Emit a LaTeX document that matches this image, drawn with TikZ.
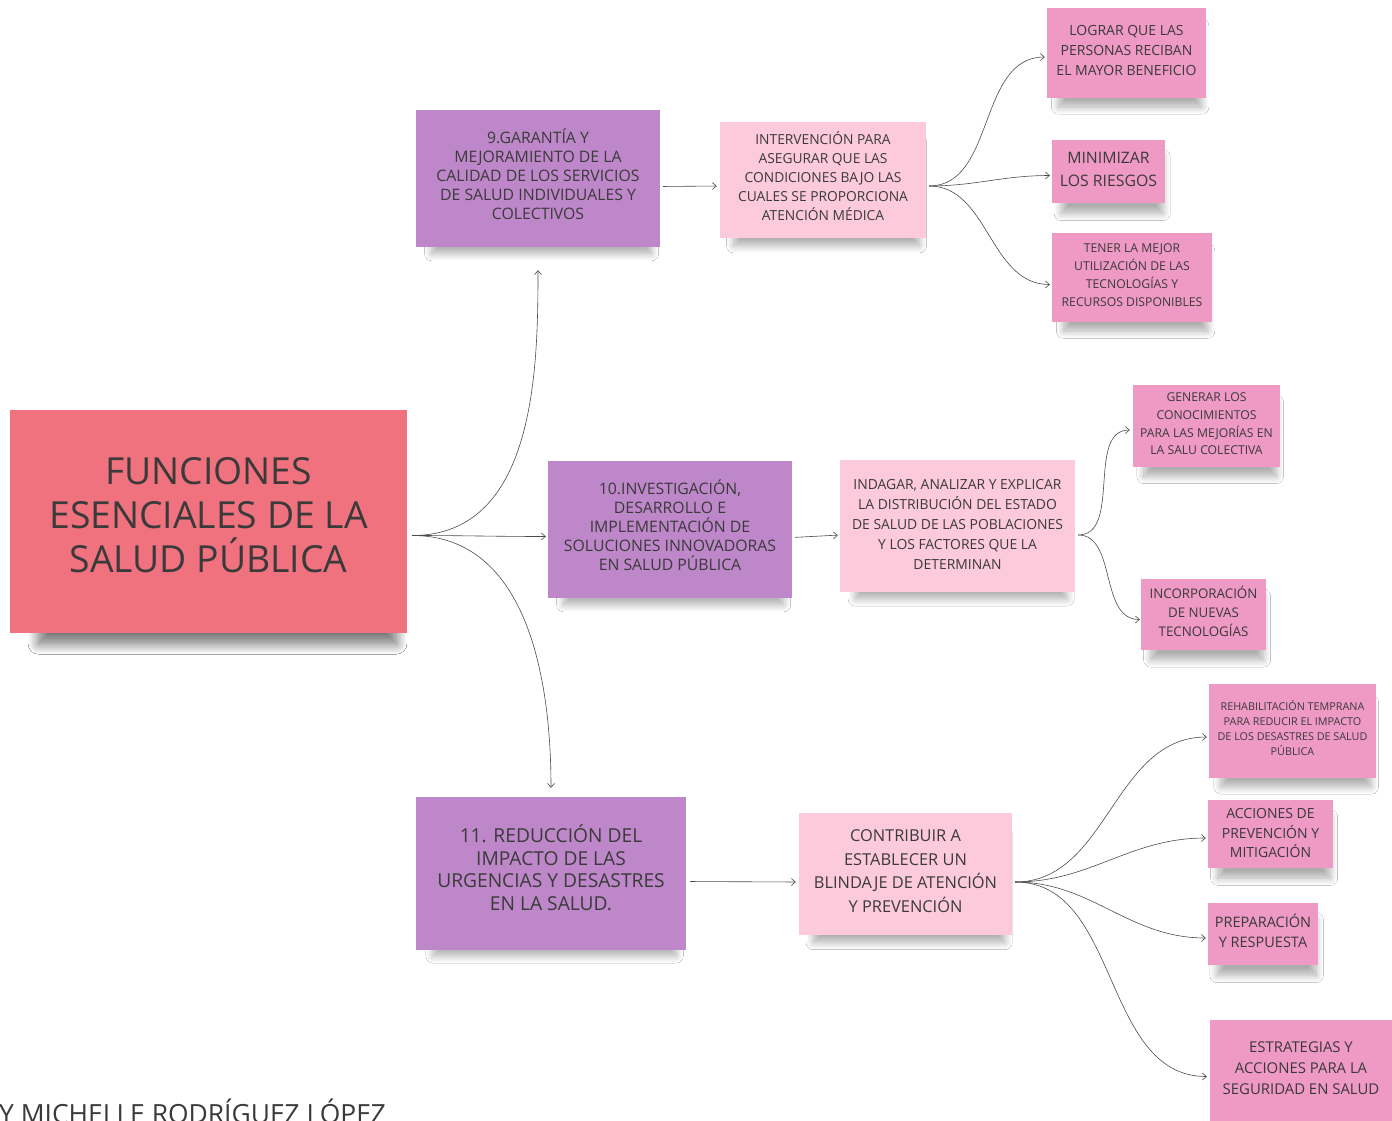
\documentclass[tikz,border=0pt]{standalone}
\usepackage{fontspec}
\setmainfont{Open Sans}
\usetikzlibrary{arrows.meta,shadows.blur,calc}
\definecolor{mainred}{HTML}{F0727F}
\definecolor{purp}{HTML}{BE87C9}
\definecolor{lpink}{HTML}{FDCADB}
\definecolor{mpink}{HTML}{EF99C5}
\definecolor{txt}{HTML}{3A3A3A}
\tikzset{
  card/.style={rectangle, inner sep=2pt, align=center, text=txt,
    blur shadow={shadow xshift=4pt, shadow yshift=-15pt, shadow opacity=32, shadow blur steps=12,
      shadow blur radius=8pt, shadow scale=0.9}},
  mainbox/.style={card, fill=mainred, minimum width=397pt, minimum height=223pt,
    blur shadow={shadow xshift=10pt, shadow yshift=-24pt, shadow opacity=32, shadow blur steps=14,
      shadow blur radius=12pt, shadow scale=0.9}},
  purpbox/.style={card, fill=purp},
  lightbox/.style={card, fill=lpink},
  leafbox/.style={card, fill=mpink},
  conn/.style={draw=black!70, line width=0.6pt, -{Straight Barb[length=4pt,width=7pt]}},
  fs/.style 2 args={font=\fontsize{#1}{#2}\selectfont},
}
\begin{document}
\begin{tikzpicture}[x=1pt,y=-1pt]
\useasboundingbox (0,0) rectangle (1392,1121);
\fill[white] (0,0) rectangle (1392,1121);

\node[mainbox, fs={37.3}{44}, text depth=14pt] (main) at (208.5,521.5) {FUNCIONES\\ESENCIALES DE LA\\SALUD PÚBLICA};

\node[purpbox, minimum width=244pt, minimum height=137pt, fs={15.8}{19}, text depth=8pt] (b9) at (538,178.5)
  {9.GARANTÍA Y\\MEJORAMIENTO DE LA\\CALIDAD DE LOS SERVICIOS\\DE SALUD INDIVIDUALES Y\\COLECTIVOS};
\node[lightbox, minimum width=206pt, minimum height=116pt, fs={13.8}{19}, text depth=8pt] (int) at (823,180)
  {INTERVENCIÓN PARA\\ASEGURAR QUE LAS\\CONDICIONES BAJO LAS\\CUALES SE PROPORCIONA\\ATENCIÓN MÉDICA};
\node[leafbox, minimum width=159pt, minimum height=90pt, fs={14}{20}, text depth=6pt] (log) at (1126.5,53)
  {LOGRAR QUE LAS\\PERSONAS RECIBAN\\EL MAYOR BENEFICIO};
\node[leafbox, minimum width=113pt, minimum height=63pt, fs={15.8}{23}, text depth=4pt] (min) at (1108.5,171.5)
  {MINIMIZAR\\LOS RIESGOS};
\node[leafbox, minimum width=160pt, minimum height=89pt, fs={12.2}{18}, text depth=4pt] (ten) at (1132,277.5)
  {TENER LA MEJOR\\UTILIZACIÓN DE LAS\\TECNOLOGÍAS Y\\RECURSOS DISPONIBLES};

\node[purpbox, minimum width=244pt, minimum height=137pt, fs={15.8}{19}, text depth=8pt] (b10) at (670,529.5)
  {10.INVESTIGACIÓN,\\DESARROLLO E\\IMPLEMENTACIÓN DE\\SOLUCIONES INNOVADORAS\\EN SALUD PÚBLICA};
\node[lightbox, minimum width=235pt, minimum height=132pt, fs={13.9}{20}, text depth=4pt] (ind) at (957.5,526)
  {INDAGAR, ANALIZAR Y EXPLICAR\\LA DISTRIBUCIÓN DEL ESTADO\\DE SALUD DE LAS POBLACIONES\\Y LOS FACTORES QUE LA\\DETERMINAN};
\node[leafbox, minimum width=147pt, minimum height=82pt, fs={12.2}{17.7}, text depth=4pt] (gen) at (1206.5,426)
  {GENERAR LOS\\CONOCIMIENTOS\\PARA LAS MEJORÍAS EN\\LA SALU COLECTIVA};
\node[leafbox, minimum width=125pt, minimum height=71pt, fs={13.3}{19}, text depth=6pt] (inc) at (1203.5,614.5)
  {INCORPORACIÓN\\DE NUEVAS\\TECNOLOGÍAS};

\node[purpbox, minimum width=270pt, minimum height=153pt, fs={19.2}{22.7}, text depth=12pt] (b11) at (551,873.5)
  {11. REDUCCIÓN DEL\\IMPACTO DE LAS\\URGENCIAS Y DESASTRES\\EN LA SALUD.};
\node[lightbox, minimum width=213pt, minimum height=122pt, fs={16.4}{23.7}, text depth=6pt] (con) at (905.5,874)
  {CONTRIBUIR A\\ESTABLECER UN\\BLINDAJE DE ATENCIÓN\\Y PREVENCIÓN};
\node[leafbox, minimum width=167pt, minimum height=94pt, fs={10.8}{15}, text depth=6pt] (reh) at (1292.5,731)
  {REHABILITACIÓN TEMPRANA\\PARA REDUCIR EL IMPACTO\\DE LOS DESASTRES DE SALUD\\PÚBLICA};
\node[leafbox, minimum width=125pt, minimum height=68pt, fs={14}{19.5}, text depth=2pt] (acc) at (1270.5,834)
  {ACCIONES DE\\PREVENCIÓN Y\\MITIGACIÓN};
\node[leafbox, minimum width=110pt, minimum height=62pt, fs={14.5}{20}, text depth=6pt] (pre) at (1263,934)
  {PREPARACIÓN\\Y RESPUESTA};
\node[leafbox, minimum width=182pt, minimum height=101pt, fs={14.9}{21}, text depth=4pt] (est) at (1301,1070.5)
  {ESTRATEGIAS Y\\ACCIONES PARA LA\\SEGURIDAD EN SALUD};

\node[anchor=base west, inner sep=0pt, text=txt, fs={26.4}{30}] (author) at (-1,1123)
  {Y MICHELLE RODRÍGUEZ LÓPEZ};

% connectors
\draw[conn, shorten >=23pt] ([shift={(5,14)}]main.east) to[out=0,in=-90] (b9.south);
\draw[conn, shorten >=2pt] ([shift={(5,14)}]main.east) to[out=0,in=180] ([yshift=-7]b10.west);
\draw[conn, shorten >=9pt] ([shift={(5,14)}]main.east) to[out=0,in=90] (b11.north);

\draw[conn, shorten <=3pt, shorten >=3pt] ([yshift=-8]b9.east) -- ([yshift=-6]int.west);
\draw[conn, shorten <=3pt, shorten >=2pt] ([yshift=-6]int.east) to[out=0,in=180] ([yshift=-4]log.west);
\draw[conn, shorten <=3pt, shorten >=2pt] ([yshift=-6]int.east) to[out=0,in=180] ([yshift=-4]min.west);
\draw[conn, shorten <=3pt, shorten >=2pt] ([yshift=-6]int.east) to[out=0,in=180] ([yshift=-7]ten.west);

\draw[conn, shorten <=3pt, shorten >=2pt] ([yshift=-8]b10.east) -- ([yshift=-9]ind.west);
\draw[conn, shorten <=3pt, shorten >=3pt] ([yshift=-9]ind.east) to[out=0,in=180] ([yshift=-4]gen.west);
\draw[conn, shorten <=3pt, shorten >=1pt] ([yshift=-9]ind.east) to[out=0,in=180] ([yshift=-5]inc.west);

\draw[conn, shorten <=4pt, shorten >=3pt] ([yshift=-8]b11.east) -- ([yshift=-8]con.west);
\draw[conn, shorten <=3pt, shorten >=2pt] ([yshift=-8]con.east) to[out=0,in=180] ([yshift=-6]reh.west);
\draw[conn, shorten <=3pt, shorten >=2pt] ([yshift=-8]con.east) to[out=0,in=180] ([yshift=-4]acc.west);
\draw[conn, shorten <=3pt, shorten >=2pt] ([yshift=-8]con.east) to[out=0,in=180] ([yshift=-4]pre.west);
\draw[conn, shorten <=3pt, shorten >=3pt] ([yshift=-8]con.east) to[out=0,in=180] ([yshift=-6]est.west);
\end{tikzpicture}
\end{document}
